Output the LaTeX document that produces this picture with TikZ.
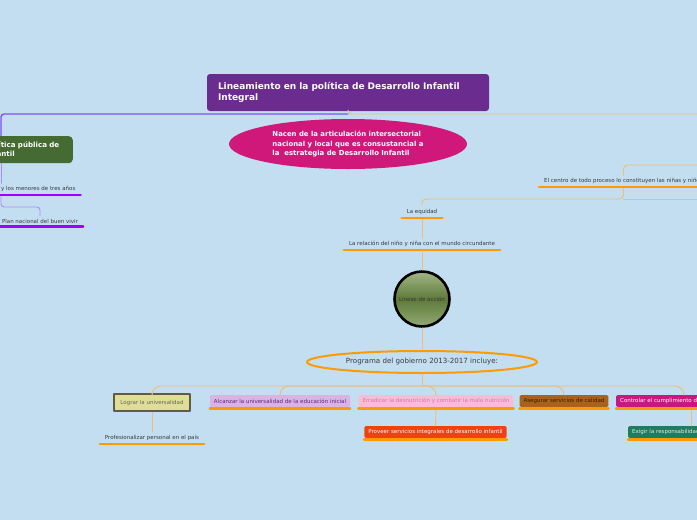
\documentclass[tikz,border=0pt]{standalone}
\usepackage{fontspec}
\setmainfont{DejaVu Sans}
\usetikzlibrary{positioning,shapes.geometric}
\definecolor{bg}{HTML}{C3DEF1}
\definecolor{ink}{HTML}{3A3A3A}
\definecolor{titlec}{HTML}{6A2C8E}
\definecolor{nacenc}{HTML}{D0187A}
\definecolor{greenc}{HTML}{456B33}
\definecolor{orng}{HTML}{FF9A00}
\definecolor{linkc}{HTML}{F0BE6E}
\definecolor{violetc}{HTML}{8050F8}
\definecolor{lavc}{HTML}{B08CF0}
\definecolor{purp}{HTML}{A000FF}
\definecolor{lin1}{HTML}{A3B786}
\definecolor{lin2}{HTML}{5E7A3A}
\definecolor{lin3}{HTML}{93AA74}
\definecolor{logfill}{HTML}{DEDD9B}
\definecolor{logdraw}{HTML}{5F5D3E}
\definecolor{logtext}{HTML}{6D6B45}
\definecolor{alcfill}{HTML}{D8B4E2}
\definecolor{alctext}{HTML}{5A2A78}
\definecolor{errfill}{HTML}{F9BCD6}
\definecolor{errtext}{HTML}{E86FA5}
\definecolor{asefill}{HTML}{A9611E}
\definecolor{asetext}{HTML}{3A1E05}
\definecolor{ctrlfill}{HTML}{C9187D}
\definecolor{provfill}{HTML}{F2400F}
\definecolor{exifill}{HTML}{1F7C5C}
\definecolor{exitext}{HTML}{D8F0E6}
\tikzset{
  every picture/.style={line cap=round, line join=round},
  lbl5/.style={font=\fontsize{5.5}{6.5}\selectfont},
  topic/.style={lbl5, text=ink, inner xsep=5pt, inner ysep=3pt},
  tbox/.style={lbl5, rounded corners=1.5pt, inner xsep=4pt, inner ysep=0pt,
    minimum height=12pt},
  uline/.style={draw=orng, line width=2.4pt},
  puline/.style={draw=purp, line width=2.4pt},
  link/.style={draw=linkc, line width=0.9pt, rounded corners=4pt},
  plink/.style={draw=violetc, line width=1.4pt, rounded corners=3pt},
  llink/.style={draw=lavc, line width=0.9pt, rounded corners=3pt},
}
\begin{document}
\begin{tikzpicture}[x=1pt,y=-1pt]
  \useasboundingbox (0,0) rectangle (697,520);
  \fill[bg] (0,0) rectangle (697,520);
  \clip (0,0) rectangle (697,520);
  % =================== central topic ===================
  \node[fill=titlec, rounded corners=3pt, text=white, align=left,
        font=\bfseries\fontsize{9}{11}\selectfont, text width=260pt,
        inner xsep=11pt, minimum height=37pt] (title) at (348,92.5)
    {Lineamiento en la política de Desarrollo Infantil\\Integral};
  \node[ellipse, fill=nacenc, text=white, align=left, inner sep=0pt,
        font=\bfseries\fontsize{6.9}{9.5}\selectfont,
        minimum width=238pt, minimum height=50pt] (nacen) at (348,144)
    {Nacen de la articulación intersectorial\\nacional y local que es consustancial a\\la\ \ estrategia de Desarrollo Infantil};
  \coordinate (lk) at (1,114);
  \coordinate (offr0) at (697,114);
  \draw[link] (title.south) -- (title.south |- lk) -- (offr0);
  \draw[plink] (title.south |- lk) -- (lk) -- (lk |- 0,140);

  % =================== left branch ===================
  \node[fill=greenc, rounded corners=4pt, text=white, align=left,
        font=\bfseries\fontsize{7.1}{9}\selectfont, text width=76pt,
        inner xsep=11pt, minimum height=27pt, anchor=north east] (gbox) at (73,136)
    {Política pública de\\Infantil};
  \node[topic, anchor=west] (menores) at (-4,189) {y los menores de tres años};
  \node[topic] (plan) at (40,221) {Plan nacional del buen vivir};
  \coordinate (lj) at (1,207);
  \draw[llink] (lk |- gbox.south) -- (lk |- menores.north);
  \draw[llink] (lk |- menores.south) -- (lj) -| (plan.north);
  \foreach \n in {menores,plan}{\draw[puline] (\n.south west) -- (\n.south east);}

  % =================== right branch ===================
  \node[topic, anchor=west] (centro) at (539,181)
    {El centro de todo proceso lo constituyen las niñas y niños};
  \node[topic] (equidad) at (422,212) {La equidad};
  \node[topic] (relacion) at (422,244) {La relación del niño y niña con el mundo circundante};
  \coordinate (offr) at (697,165);
  \coordinate (jr) at (centro.south |- 0,199);
  \coordinate (offr2) at (697,199);
  \draw[link] (offr) -| (centro.north);
  \draw[link] (centro.south) -- (jr) -| (equidad.north);
  \draw[link] (jr) -- (offr2);
  \draw[link] (equidad.south) -- (relacion.north);
  \foreach \n in {centro,equidad,relacion}{\draw[uline] (\n.south west) -- (\n.south east);}

  % =================== lines of action ===================
  \node[circle, draw=black, line width=2.6pt, minimum size=55pt, inner sep=0pt,
        top color=lin1, bottom color=lin3, middle color=lin2, text=ink,
        lbl5] (lineas) at (422,299) {Líneas de acción};
  \node[ellipse, draw=orng, line width=2pt, minimum width=230pt, minimum height=22pt,
        inner sep=0pt, text=ink, font=\fontsize{7.1}{8}\selectfont] (prog) at (422,362)
    {Programa del gobierno 2013-2017 incluye:};
  \draw[link] (relacion.south) -- (lineas.north);
  \draw[link] (lineas.south) -- (prog.north);

  % =================== programme items ===================
  \node[lbl5, fill=logfill, draw=logdraw, line width=2.6pt, text=logtext,
        minimum width=76pt, minimum height=17pt, inner sep=0pt] (logr) at (152,402.5)
    {Lograr la universalidad};
  \node[tbox, fill=alcfill, text=alctext] (alc) at (280,401)
    {Alcanzar la universalidad de la educación inicial};
  \node[tbox, fill=errfill, text=errtext] (erra) at (436,401)
    {Erradicar la desnutrición y combatir la mala nutrición};
  \node[tbox, fill=asefill, text=asetext] (aseg) at (564,401)
    {Asegurar servicios de calidad};
  \node[tbox, fill=ctrlfill, text=white, anchor=west] (ctrl) at (616,401)
    {Controlar el cumplimiento de los};
  \node[topic] (prof) at (152,438) {Profesionalizar personal en el país};
  \node[tbox, fill=provfill, text=white] (prov) at (435.5,432)
    {Proveer servicios integrales de desarrollo infantil};
  \node[tbox, fill=exifill, text=exitext, anchor=west] (exig) at (628,432)
    {Exigir la responsabilidad};
  \coordinate (bj) at (422,386);
  \draw[link] (prog.south) -- (bj);
  \foreach \n in {logr,alc,erra,aseg}{\draw[link, rounded corners=9pt] (bj) -| (\n.north);}
  \draw[link, rounded corners=9pt] (bj) -| ([xshift=68pt]ctrl.north west);
  \draw[link] (logr.south) -- (prof.north);
  \draw[link] (erra.south) -- (prov.north);
  \draw[link] ([xshift=75pt]ctrl.south west) -- ([xshift=63pt]exig.north west);
  \draw[uline] (prof.south west) -- (prof.south east);
  \foreach \n in {alc,erra,aseg,ctrl,prov,exig}{
    \draw[uline] ([yshift=-1.3pt]\n.south west) -- ([yshift=-1.3pt]\n.south east);}
\end{tikzpicture}
\end{document}
